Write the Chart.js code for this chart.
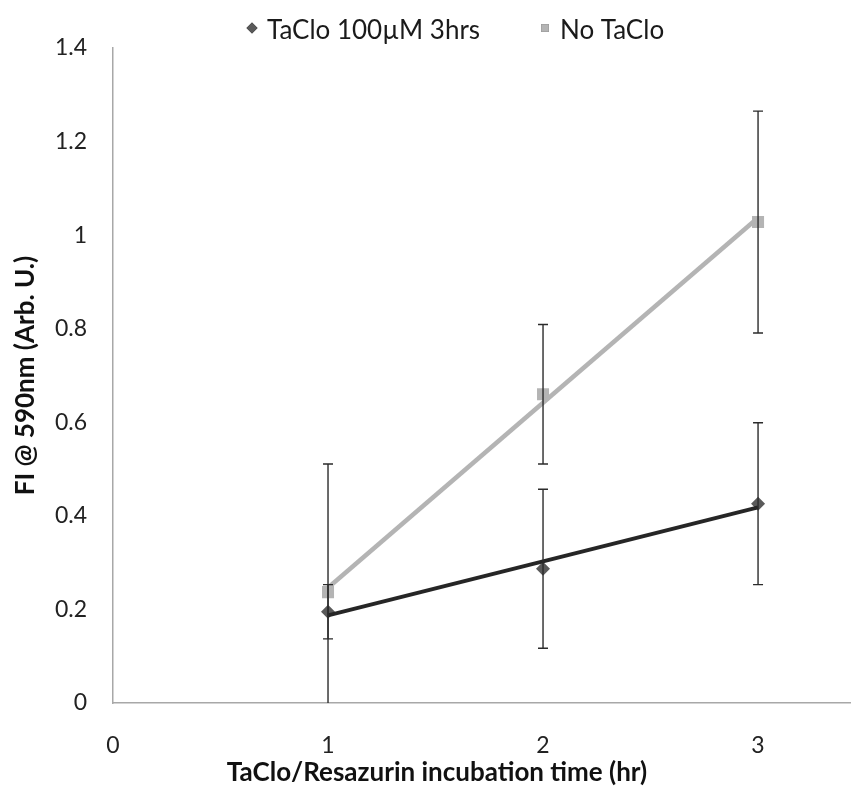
<!DOCTYPE html>
<html>
<head>
<meta charset="utf-8">
<script src="https://cdn.jsdelivr.net/npm/chart.js@4.4.1/dist/chart.umd.min.js"></script>
<style>
  body { margin: 0; background: #fff; }
  #chart { display: block; }
</style>
</head>
<body>
<canvas id="chart" width="859" height="789"></canvas>
<script>
const hours = [1, 2, 3];
const taclo = [0.195, 0.287, 0.426];
const tacloErr = [0.058, 0.170, 0.173];
const noTaclo = [0.237, 0.660, 1.028];
const noTacloErr = [0.274, 0.149, 0.237];
const xTicks = [0, 1, 2, 3];

const FONT = 'Lato, "Open Sans", sans-serif';

// least squares line through the points, evaluated at first and last x
function linearFit(xs, ys) {
  const n = xs.length;
  const mx = xs.reduce((a, b) => a + b, 0) / n;
  const my = ys.reduce((a, b) => a + b, 0) / n;
  let sxy = 0, sxx = 0;
  xs.forEach((x, i) => {
    sxy += (x - mx) * (ys[i] - my);
    sxx += (x - mx) * (x - mx);
  });
  const slope = sxy / sxx;
  const icpt = my - slope * mx;
  return [xs[0], xs[n - 1]].map(x => ({ x, y: icpt + slope * x }));
}

const toPoints = (xs, ys) => xs.map((x, i) => ({ x, y: ys[i] }));

// vertical error bars with caps, drawn over markers
const errorBars = {
  id: 'errorBars',
  afterDatasetsDraw(chart) {
    const { ctx, chartArea, scales: { x, y } } = chart;
    ctx.save();
    ctx.beginPath();
    ctx.rect(chartArea.left, chartArea.top, chartArea.right - chartArea.left, chartArea.bottom - chartArea.top);
    ctx.clip();
    ctx.strokeStyle = '#2b2b2b';
    ctx.lineWidth = 1.4;
    chart.data.datasets.forEach(ds => {
      if (!ds.errors) return;
      ds.data.forEach((p, i) => {
        const px = x.getPixelForValue(p.x);
        const lo = p.y - ds.errors[i];
        const hi = p.y + ds.errors[i];
        const yLo = y.getPixelForValue(lo);
        const yHi = y.getPixelForValue(hi);
        ctx.beginPath();
        ctx.moveTo(px, yLo);
        ctx.lineTo(px, yHi);
        if (hi <= y.max) { ctx.moveTo(px - 5, yHi); ctx.lineTo(px + 5, yHi); }
        if (lo >= y.min) { ctx.moveTo(px - 5, yLo); ctx.lineTo(px + 5, yLo); }
        ctx.stroke();
      });
    });
    ctx.restore();
  }
};

// legend row above the plot and the x axis title, centred on the whole chart
const annotations = {
  id: 'annotations',
  afterDraw(chart) {
    const { ctx } = chart;
    const items = [
      { label: 'TaClo 100µM 3hrs', style: 'rectRot', color: '#5a5a5a', x: 252 },
      { label: 'No TaClo', style: 'rect', color: '#b4b4b4', x: 545 }
    ];
    ctx.save();
    ctx.font = '26px ' + FONT;
    ctx.textBaseline = 'middle';
    items.forEach(it => {
      Chart.helpers.drawPoint(ctx, { pointStyle: it.style, radius: 5.5, borderWidth: 0 }, it.x, 28);
      ctx.fillStyle = it.color;
      ctx.fill();
      ctx.fillStyle = '#1a1a1a';
      ctx.fillText(it.label, it.x + 15, 31);
    });
    ctx.font = 'bold 26px ' + FONT;
    ctx.textAlign = 'center';
    ctx.fillStyle = '#111';
    ctx.fillText('TaClo/Resazurin incubation time (hr)', 437, 773);
    ctx.restore();
  }
};

new Chart(document.getElementById('chart'), {
  type: 'scatter',
  data: {
    datasets: [
      {
        label: 'TaClo 100µM 3hrs',
        data: toPoints(hours, taclo),
        errors: tacloErr,
        pointStyle: 'rectRot',
        pointRadius: 7,
        backgroundColor: '#5a5a5a',
        borderWidth: 0,
        order: 3
      },
      {
        label: 'No TaClo',
        data: toPoints(hours, noTaclo),
        errors: noTacloErr,
        pointStyle: 'rect',
        pointRadius: 8.5,
        backgroundColor: '#b4b4b4',
        borderWidth: 0,
        order: 2
      },
      {
        label: 'TaClo trend',
        data: linearFit(hours, taclo),
        showLine: true,
        pointRadius: 0,
        borderColor: '#262626',
        borderWidth: 4,
        order: 1
      },
      {
        label: 'No TaClo trend',
        data: linearFit(hours, noTaclo),
        showLine: true,
        pointRadius: 0,
        borderColor: '#b4b4b4',
        borderWidth: 4.5,
        order: 0
      }
    ]
  },
  options: {
    responsive: false,
    animation: false,
    layout: { padding: { top: 48, right: 4, left: 0, bottom: 0 } },
    plugins: {
      legend: { display: false },
      tooltip: { enabled: false }
    },
    scales: {
      x: {
        type: 'linear',
        min: 0,
        max: 3.43,
        afterBuildTicks: scale => { scale.ticks = xTicks.map(v => ({ value: v })); },
        afterFit: scale => { scale.height = 86; },
        grid: { display: false, drawTicks: false },
        border: { display: true, color: '#a8a8a8', width: 1.5 },
        ticks: { padding: 29, color: '#222', font: { family: FONT, size: 23 } }
      },
      y: {
        min: 0,
        max: 1.4,
        afterFit: scale => { scale.width = 113; },
        grid: { display: false, drawTicks: false },
        border: { display: true, color: '#a8a8a8', width: 1.5 },
        ticks: {
          stepSize: 0.2,
          padding: 26,
          color: '#222',
          font: { family: FONT, size: 23 },
          callback: v => String(+v.toFixed(1))
        },
        title: {
          display: true,
          text: 'FI @ 590nm (Arb. U.)',
          color: '#111',
          padding: { top: 10, bottom: 0 },
          font: { family: FONT, size: 26, weight: 'bold' }
        }
      }
    }
  },
  plugins: [errorBars, annotations]
});
</script>
</body>
</html>
